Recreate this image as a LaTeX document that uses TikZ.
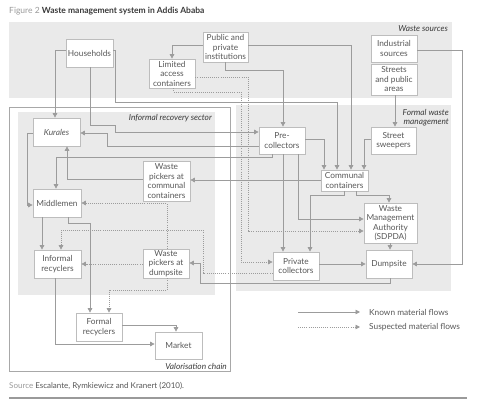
\documentclass[tikz,border=0pt]{standalone}
\usepackage{fontspec}
\setmainfont{Lato}
\usetikzlibrary{arrows.meta}
\definecolor{panel}{HTML}{EAEAEA}
\definecolor{boxline}{HTML}{BDBDBD}
\definecolor{flowc}{HTML}{9C9C9C}
\definecolor{txt}{HTML}{585858}
\definecolor{lbl}{HTML}{3A3A3A}
\definecolor{figgray}{HTML}{9A9A9A}
\definecolor{chainline}{HTML}{A8A8A8}
\newcommand\nfnt{\fontsize{8.3}{9.5}\selectfont}
\newcommand\lfnt{\fontsize{8.3}{9.6}\selectfont}
\begin{document}
\begin{tikzpicture}[x=1pt,y=-1pt,
  box/.style={draw=boxline, line width=0.7pt, fill=white, inner sep=0pt, align=center, text=txt, font=\nfnt},
  flow/.style={draw=flowc, line width=0.7pt, -{Triangle[length=4.5pt,width=4.5pt]}},
  susp/.style={flow, dash pattern=on 1pt off 1.1pt},
  lab/.style={inner sep=0pt, text=lbl, font=\lfnt\itshape},
  plain/.style={inner sep=0pt, text=txt, font=\lfnt}]
\useasboundingbox (0,0) rectangle (480,406);
\fill[white] (0,0) rectangle (480,406);
% panels
\fill[panel] (9,22) rectangle (452,98);
\fill[panel] (236,105) rectangle (451,291);
\draw[chainline, line width=0.6pt, fill=white] (9,107) rectangle (230,371);
\fill[panel] (18,112) rectangle (215,295);
% title and source
\node[anchor=west, inner sep=0pt, font=\fontsize{8.5}{10}\selectfont] (title) at (9,11) {\textcolor{figgray}{Figure 2} \textcolor{lbl}{\textbf{Waste management system in Addis Ababa}}};
\node[anchor=west, inner sep=0pt, font=\fontsize{8}{10}\selectfont] (src) at (9,386) {\textcolor{figgray}{Source} \textcolor{txt}{Escalante, Rymkiewicz and Kranert (2010).}};
\draw[figgray, line width=2pt] (9,398) -- (467,398);
% panel labels
\node[lab, anchor=east] (lws) at (448,29) {Waste sources};
\node[lab, anchor=east] (lfw1) at (449,112.5) {Formal waste};
\node[lab, anchor=east] (lfw2) at (449,122.5) {management};
\node[lab, anchor=east] (lirs) at (212,118.5) {Informal recovery sector};
\node[lab, anchor=east] (lvc) at (227,366) {Valorisation chain};
% nodes
\node[box, minimum width=47pt, minimum height=28pt] (hh) at (89.5,53) {Households};
\node[box, minimum width=45pt, minimum height=30pt] (pub) at (225.5,47) {Public and\\private\\institutions};
\node[box, minimum width=46pt, minimum height=29pt] (lac) at (172,73.5) {Limited\\access\\containers};
\node[box, minimum width=46pt, minimum height=27pt] (ind) at (394,48.5) {Industrial\\sources};
\node[box, minimum width=46pt, minimum height=31pt] (str) at (394,79.5) {Streets\\and public\\areas};
\node[box, minimum width=45pt, minimum height=27pt] (sw) at (393.5,140.5) {Street\\sweepers};
\node[box, minimum width=46pt, minimum height=27pt] (pre) at (282,140.5) {Pre-\\collectors};
\node[box, minimum width=47pt, minimum height=21pt] (cc) at (344.5,180.5) {Communal\\containers};
\node[box, minimum width=53pt, minimum height=40pt] (wma) at (390.5,223) {Waste\\Management\\Authority\\(SDPDA)};
\node[box, minimum width=46pt, minimum height=28pt] (dump) at (389,264) {Dumpsite};
\node[box, minimum width=46pt, minimum height=28pt] (pc) at (296,266) {Private\\collectors};
\node[box, minimum width=47pt, minimum height=28pt, font=\nfnt\itshape] (kur) at (56.5,132) {Kurales};
\node[box, minimum width=47pt, minimum height=40pt] (wpcc) at (166.5,181) {Waste\\pickers at\\communal\\containers};
\node[box, minimum width=48pt, minimum height=28pt] (mid) at (57,203) {Middlemen};
\node[box, minimum width=47pt, minimum height=28pt] (ir) at (57.5,264) {Informal\\recyclers};
\node[box, minimum width=46pt, minimum height=29pt] (wpd) at (166,263.5) {Waste\\pickers at\\dumpsite};
\node[box, minimum width=46pt, minimum height=28pt] (fr) at (99,327) {Formal\\recyclers};
\node[box, minimum width=47pt, minimum height=27pt] (mkt) at (178.5,345.5) {Market};
% connectors
\draw[flow] (hh.west |- 0,50) -- (55,50) -- (55,0 |- kur.north);
\draw[flow] (90,0 |- hh.south) -- (90,125) -- (115,125) -- (115,132) -- (pre.west |- 0,132);
\draw[flow] (hh.east |- 0,50) -- (115,50) -- (115,102) -- (337,102) -- (337,0 |- cc.north);
\draw[flow] (pub.west |- 0,45) -- (172,45) -- (172,0 |- lac.north);
\draw[flow] (225,0 |- pub.south) -- (225,70) -- (283,70) -- (283,0 |- pre.north);
\draw[flow] (pub.east |- 0,45) -- (351,45) -- (351,0 |- cc.north);
\draw[susp] (lac.east |- 0,77) -- (248,77) -- (248,231) -- (wma.west |- 0,231);
\draw[susp] (173,0 |- lac.south) -- (173,92) -- (241,92) -- (241,262) -- (pc.west |- 0,262);
\draw[flow] (ind.east |- 0,50) -- (462,50) -- (462,264) -- (dump.east |- 0,264);
\draw[flow] (395,0 |- str.south) -- (395,0 |- sw.north);
\draw[flow] (sw.west |- 0,139) -- (364,139) -- (364,0 |- cc.north);
\draw[flow] (pre.east |- 0,139) -- (324,139) -- (324,0 |- cc.north);
\draw[flow] (283,0 |- pre.south) -- (283,0 |- pc.north);
\draw[flow] (298,0 |- pre.south) -- (298,219) -- (wma.west |- 0,219);
\draw[flow] (pre.west |- 0,146) -- (107,146) -- (107,133) -- (kur.east |- 0,133);
\draw[flow] (272,0 |- pre.south) -- (272,157) -- (56,157) -- (56,0 |- mid.north);
\draw[flow] (cc.west |- 0,180) -- (wpcc.east |- 0,180);
\draw[flow] (344,0 |- cc.south) -- (344,195) -- (310,195) -- (310,0 |- pc.north);
\draw[flow] (356,0 |- cc.south) -- (356,195) -- (389,195) -- (389,0 |- wma.north);
\draw[flow] (390,0 |- wma.south) -- (390,0 |- dump.north);
\draw[flow] (pc.east |- 0,264) -- (dump.west |- 0,264);
\draw[flow] (390,0 |- dump.south) -- (390,283) -- (200,283) -- (200,263) -- (wpd.east |- 0,263);
\draw[susp] (pc.west |- 0,273) -- (203,273) -- (203,230) -- (61,230) -- (61,0 |- ir.north);
\draw[flow] (wpcc.west |- 0,179) -- (67,179) -- (67,0 |- kur.south);
\draw[flow] (kur.west |- 0,133) -- (27,133) -- (27,205) -- (mid.west |- 0,205);
\draw[susp] (167,0 |- wpd.north) -- (167,203) -- (mid.east |- 0,203);
\draw[flow] (42,0 |- mid.south) -- (42,0 |- ir.north);
\draw[flow] (68,0 |- mid.south) -- (68,223) -- (90,223) -- (90,0 |- fr.north);
\draw[susp] (wpd.west |- 0,264) -- (ir.east |- 0,264);
\draw[susp] (167,0 |- wpd.south) -- (167,290) -- (109,290) -- (109,0 |- fr.north);
\draw[flow] (55,0 |- ir.south) -- (55,344) -- (mkt.west |- 0,344);
\draw[flow] (fr.east |- 0,325) -- (176,325) -- (176,0 |- mkt.north);
% legend
\coordinate (k1) at (298,312);
\coordinate (k2) at (360,312);
\coordinate (s1) at (298,327);
\coordinate (s2) at (360,327);
\draw[flow] (k1) -- (k2);
\draw[susp] (s1) -- (s2);
\node[plain, anchor=west] (lk) at (369,312) {Known material flows};
\node[plain, anchor=west] (ls) at (369,327) {Suspected material flows};
\end{tikzpicture}
\end{document}
